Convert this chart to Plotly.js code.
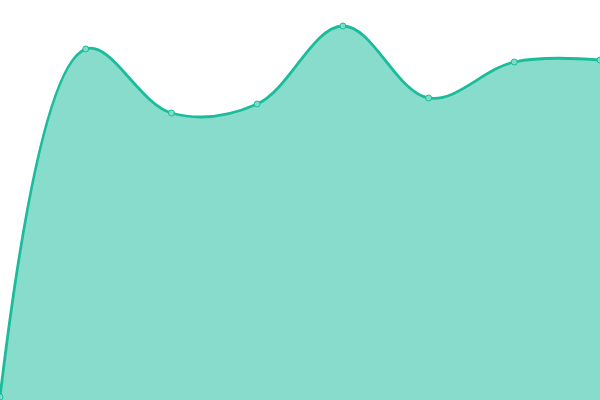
<!DOCTYPE html>
<html><head><meta charset="utf-8">
<script src="https://cdn.plot.ly/plotly-3.0.1.min.js"></script>
<style>html,body{margin:0;padding:0;background:#fff}#chart{width:600px;height:400px}</style>
</head><body><div id="chart"></div>
<script>
const xValues = [0, 1, 2, 3, 4, 5, 6, 7];
const yValues = [3, 351, 287, 296, 374, 302, 338, 340];

Plotly.newPlot('chart', [{
  x: xValues,
  y: yValues,
  type: 'scatter',
  mode: 'lines+markers',
  fill: 'tozeroy',
  fillcolor: 'rgba(26,188,156,0.52)',
  line: {shape: 'spline', smoothing: 1.05, color: '#1abc9c', width: 2.8},
  marker: {size: 6, color: '#7fdcc8', line: {color: '#1abc9c', width: 1}},
  cliponaxis: false,
  hoverinfo: 'none'
}], {
  width: 600, height: 400,
  margin: {l: 0, r: 0, t: 0, b: 0},
  paper_bgcolor: '#fff', plot_bgcolor: '#fff',
  showlegend: false,
  xaxis: {range: [0, 7], visible: false, fixedrange: true},
  yaxis: {range: [0, 400], visible: false, fixedrange: true}
}, {displayModeBar: false, staticPlot: true});
</script></body></html>
